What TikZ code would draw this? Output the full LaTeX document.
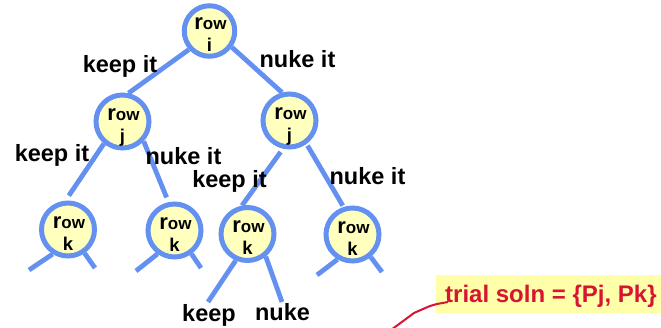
\documentclass[tikz,border=0pt]{standalone}
\usepackage{fontspec}
\setmainfont{Liberation Sans}
\definecolor{ringblue}{RGB}{100,145,240}
\definecolor{nodefill}{RGB}{255,255,190}
\definecolor{lblbg}{RGB}{255,255,170}
\definecolor{lblred}{RGB}{215,20,50}
\tikzset{
  rowc/.style={circle, draw=ringblue, fill=nodefill, line width=5pt, minimum size=53pt, inner sep=0pt},
  rowtxt/.style={anchor=base, inner sep=0pt, font=\bfseries},
  conn/.style={draw=ringblue, line width=4.8pt},
  lbl/.style={anchor=base, inner sep=0pt, font=\bfseries\fontsize{23.5}{23.5}\selectfont},
  redline/.style={draw=lblred, line width=2pt, line join=round},
}
\newcommand\rownd[5][]{%
  \node[rowc,#1] (#2) at (#3,#4) {};
  \node[rowtxt] (#2t) at (#3+1,#4-1) {{\fontsize{22}{22}\selectfont r}{\fontsize{17}{17}\selectfont ow}};
  \node[rowtxt] (#2l) at (#3,#4+21) {\fontsize{18.5}{18.5}\selectfont #5};
}
\begin{document}
\begin{tikzpicture}[x=1pt,y=-1pt]
\useasboundingbox (0,0) rectangle (661,328);
% nodes
\rownd[minimum size=50.5pt]{ni}{209.5}{31}{i}
\rownd{jl}{122.5}{121.5}{j}
\rownd{jr}{289.5}{120.5}{j}
\rownd{ka}{68}{229.5}{k}
\rownd{kb}{174.5}{230.5}{k}
\rownd{kc}{247.5}{234}{k}
\rownd{kd}{352.5}{234.5}{k}
% stub end coordinates
\coordinate (kal) at (29,270);
\coordinate (kar) at (95,268);
\coordinate (kbl) at (136,271);
\coordinate (kbr) at (201,268);
\coordinate (kcl) at (208,302);
\coordinate (kcr) at (282,302);
\coordinate (kdl) at (317,275);
\coordinate (kdr) at (382,272);
% connectors
\draw[conn] (ni.222) -- (jl.78);
\draw[conn] (ni.324) -- (jr.105);
\draw[conn, shorten >=6pt] (jl.230) -- (ka.95);
\draw[conn, shorten >=5pt] (jl.317) -- (kb.102);
\draw[conn, shorten <=4pt] (jr.257) -- (kc.101);
\draw[conn, shorten <=2pt, shorten >=1.5pt] (jr.306) -- (kd.108);
\draw[conn] (ka.238) -- (kal);
\draw[conn] (ka.305) -- (kar);
\draw[conn] (kb.234) -- (kbl);
\draw[conn] (kb.306) -- (kbr);
\draw[conn] (kc.246) -- (kcl);
\draw[conn] (kc.309) -- (kcr);
\draw[conn] (kd.239) -- (kdl);
\draw[conn] (kd.309) -- (kdr);
% labels
\node[lbl] (l1) at (120,73) {keep it};
\node[lbl] (l2) at (297.5,68) {nuke it};
\node[lbl] (l3) at (52,162) {keep it};
\node[lbl] (l4) at (183.5,165) {nuke it};
\node[lbl] (l5) at (229.5,188) {keep it};
\node[lbl] (l6) at (367.5,185) {nuke it};
\node[lbl] (l7) at (209,322) {keep};
\node[lbl] (l8) at (282.5,321) {nuke};
% trial solution
\fill[lblbg] (436,275) rectangle (661,313);
\node[anchor=base west, inner sep=0pt, text=lblred, font=\bfseries\fontsize{24}{24}\selectfont] (soln) at (445,303) {trial soln = \{Pj, Pk\}};
\coordinate (rs) at (448,302);
\coordinate (re) at (391,330);
\draw[redline] (rs) -- (437,304) -- (430,306) -- (423,309) -- (414,313) -- (re);
\end{tikzpicture}
\end{document}
